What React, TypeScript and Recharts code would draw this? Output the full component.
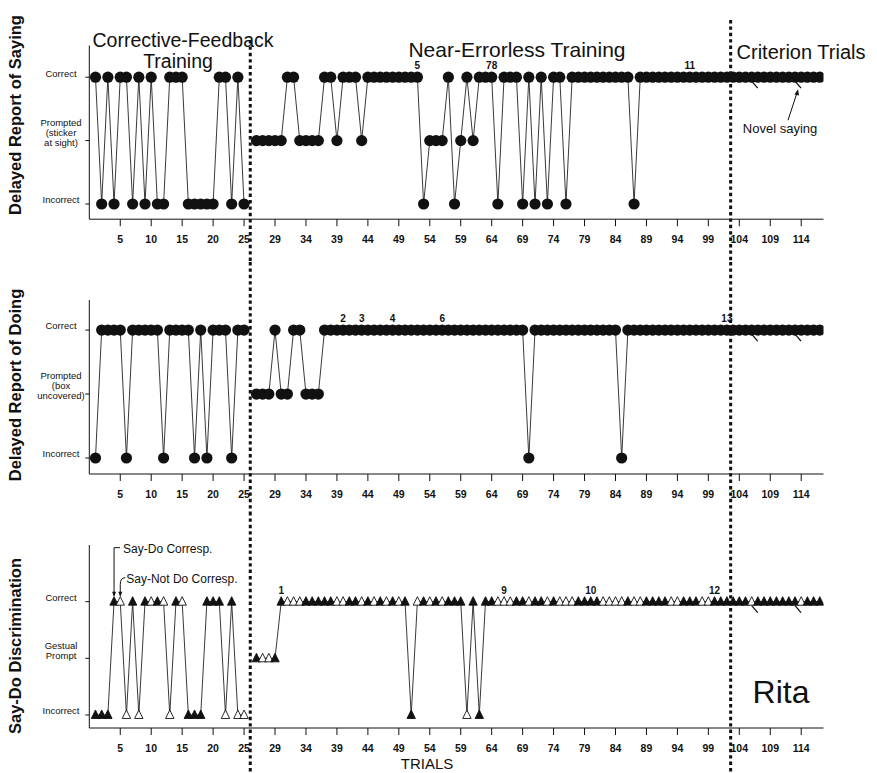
import React from 'react';
import { LineChart, Line, XAxis, YAxis, ReferenceLine, ReferenceDot } from 'recharts';

// ---------- DATA ----------
// 2 = Correct, 1 = Prompted, 0 = Incorrect ; trial = index + 1
const sayingValues = [
  2, 0, 2, 0, 2, 2, 0, 2, 0, 2, 0, 0, 2, 2, 2, 0, 0, 0, 0, 0, 2, 2, 0, 2, 0,
  1, 1, 1, 1, 1, 2, 2, 1, 1, 1, 1, 2, 2, 1, 2, 2, 2, 1,
  2, 2, 2, 2, 2, 2, 2, 2, 2, 0, 1, 1, 1, 2, 0, 1, 2, 1, 2, 2, 2, 0,
  2, 2, 2, 0, 2, 0, 2, 0, 2, 2, 0,
  2, 2, 2, 2, 2, 2, 2, 2, 2, 2, 0,
  2, 2, 2, 2, 2, 2, 2, 2, 2, 2, 2, 2, 2, 2, 2, 2, 2, 2, 2, 2, 2, 2, 2, 2, 2, 2, 2, 2, 2, 2,
];
const doingValues = [
  0, 2, 2, 2, 2, 0, 2, 2, 2, 2, 2, 0, 2, 2, 2, 2, 0, 2, 0, 2, 2, 2, 0, 2, 2,
  1, 1, 1, 2, 1, 1, 2, 2, 1, 1, 1,
  2, 2, 2, 2, 2, 2, 2, 2, 2, 2, 2, 2, 2, 2, 2, 2, 2, 2, 2, 2, 2, 2, 2, 2, 2, 2, 2, 2, 2, 2, 2, 2, 2, 0,
  2, 2, 2, 2, 2, 2, 2, 2, 2, 2, 2, 2, 2, 2, 0,
  2, 2, 2, 2, 2, 2, 2, 2, 2, 2, 2, 2, 2, 2, 2, 2, 2, 2, 2, 2, 2, 2, 2, 2, 2, 2, 2, 2, 2, 2, 2, 2,
];
const sayDoValues = [
  0, 0, 0, 2, 2, 0, 2, 0, 2, 2, 2, 2, 0, 2, 2, 0, 0, 0, 2, 2, 2, 0, 2, 0, 0,
  1, 1, 1, 1,
  2, 2, 2, 2, 2, 2, 2, 2, 2, 2, 2, 2, 2, 2, 2, 2, 2, 2, 2, 2, 2, 0,
  2, 2, 2, 2, 2, 2, 2, 2, 0, 2, 0,
  2, 2, 2, 2, 2, 2, 2, 2, 2, 2, 2, 2, 2, 2, 2, 2, 2, 2, 2, 2, 2, 2, 2, 2, 2, 2,
  2, 2, 2, 2, 2, 2, 2, 2, 2, 2, 2, 2, 2, 2, 2, 2, 2, 2, 2, 2, 2, 2, 2, 2, 2, 2, 2, 2, 2,
];
// F = Say-Do correspondence (filled), O = Say-Not Do correspondence (open)
const sayDoMarkers = [
  'F', 'F', 'F', 'F', 'O', 'O', 'F', 'O', 'F', 'O', 'F', 'O', 'O', 'F', 'O', 'F', 'F', 'F', 'F', 'F', 'F', 'O', 'F', 'O', 'O',
  'F', 'O', 'O', 'F',
  'F', 'O', 'O', 'O', 'F', 'F', 'F', 'F', 'F', 'O', 'O', 'F', 'F', 'O', 'F', 'O', 'F', 'O', 'F', 'O', 'F', 'F',
  'O', 'F', 'O', 'F', 'O', 'F', 'F', 'F', 'O', 'F', 'F',
  'F', 'F', 'O', 'O', 'O', 'F', 'F', 'O', 'F', 'F', 'O', 'F', 'O', 'O', 'O', 'F', 'F', 'F', 'F', 'O', 'O', 'O', 'O', 'F', 'O',
  'O', 'F', 'F', 'F', 'F', 'O', 'O', 'F', 'F', 'F', 'O', 'O', 'F', 'F', 'F', 'F', 'F', 'F', 'O', 'F', 'F', 'F', 'F', 'F', 'F', 'F', 'O', 'F', 'F', 'F',
];

const lastFeedbackTrial = 25;
const lastErrorlessTrial = 102;
const novelTrials = [106, 113];

const sayingNotes = [
  { trial: 52, text: '5' },
  { trial: 64, text: '78' },
  { trial: 96, text: '11' },
];
const doingNotes = [
  { trial: 40, text: '2' },
  { trial: 43, text: '3' },
  { trial: 48, text: '4' },
  { trial: 56, text: '6' },
  { trial: 102, text: '13' },
];
const sayDoNotes = [
  { trial: 30, text: '1' },
  { trial: 66, text: '9' },
  { trial: 80, text: '10' },
  { trial: 100, text: '12' },
];

const xTickTrials = [5, 10, 15, 20, 25, 29, 34, 39, 44, 49, 54, 59, 64, 69, 74, 79, 84, 89, 94, 99, 104, 109, 114];

const sayingTickLabels = { 0: ['Incorrect'], 1: ['Prompted', '(sticker', 'at sight)'], 2: ['Correct'] };
const doingTickLabels = { 0: ['Incorrect'], 1: ['Prompted', '(box', 'uncovered)'], 2: ['Correct'] };
const sayDoTickLabels = { 0: ['Incorrect'], 1: ['Gestual', 'Prompt'], 2: ['Correct'] };

// ---------- HELPERS ----------
const FONT = '"Liberation Sans", Arial, Helvetica, sans-serif';
const INK = '#111';
// a one-trial gap separates the feedback phase from the following phases on the axis
const trialPos = (t: number) => (t <= lastFeedbackTrial ? t : t + 1);
const phaseLine1 = (trialPos(lastFeedbackTrial) + trialPos(lastFeedbackTrial + 1)) / 2;
const phaseLine2 = (trialPos(lastErrorlessTrial) + trialPos(lastErrorlessTrial + 1)) / 2 + 0.1;

function buildData(values: number[], notes: { trial: number; text: string }[], markers?: string[]) {
  return values.map((v, i) => {
    const trial = i + 1;
    const note = notes.find((n) => n.trial === trial);
    return {
      trial,
      pos: trialPos(trial),
      early: trial <= lastFeedbackTrial ? v : null,
      late: trial > lastFeedbackTrial ? v : null,
      marker: markers ? markers[i] : 'C',
      note: note ? note.text : '',
      novel: novelTrials.includes(trial),
    };
  });
}

const makeDot = (shape: 'circle' | 'triangle') => (props: any) => {
  const { cx, cy, payload, index } = props;
  if (cx == null || cy == null || isNaN(cx) || isNaN(cy)) return <g key={`e-${index}`} />;
  let mark;
  if (shape === 'circle') {
    mark = <circle cx={cx} cy={cy} r={5.6} fill={INK} />;
  } else {
    const filled = payload.marker === 'F';
    mark = (
      <path
        d={`M${cx},${cy - 5} L${cx + 4.2},${cy + 3.5} L${cx - 4.2},${cy + 3.5} Z`}
        fill={filled ? INK : '#fff'}
        stroke={INK}
        strokeWidth={0.9}
      />
    );
  }
  return (
    <g key={`d-${index}`}>
      {mark}
      {payload.novel ? (
        <line x1={cx} y1={cy + 4} x2={cx + 6} y2={cy + 11} stroke={INK} strokeWidth={1.3} />
      ) : null}
      {payload.note ? (
        <text x={cx} y={cy - 8} textAnchor="middle" fontFamily={FONT} fontSize={10} fontWeight={700} fill={INK}>
          {payload.note}
        </text>
      ) : null}
    </g>
  );
};

const makeYTick = (labels: Record<number, string[]>) => (props: any) => {
  const { y, payload } = props;
  const lines = labels[payload.value] || [];
  const lh = 10;
  const offset = lines.length === 1 ? -4 : -8;
  const start = y + offset - ((lines.length - 1) * lh) / 2;
  return (
    <g>
      {lines.map((l, i) => (
        <text
          key={i}
          x={61}
          y={start + i * lh}
          dy="0.35em"
          textAnchor="middle"
          fontFamily={FONT}
          fontSize={9.5}
          fill={INK}
        >
          {l}
        </text>
      ))}
    </g>
  );
};

const XTick = (props: any) => {
  const { x, y, payload } = props;
  const t = payload.value <= lastFeedbackTrial ? payload.value : payload.value - 1;
  return (
    <text x={x} y={y} dy="0.75em" textAnchor="middle" fontFamily={FONT} fontSize={10.5} fontWeight={700} fill={INK}>
      {t}
    </text>
  );
};

const dottedShape = (top: number, bottom: number) => (props: any) => (
  <line x1={props.x1} x2={props.x1} y1={top} y2={bottom} stroke={INK} strokeWidth={3} strokeDasharray="3.4 3" />
);

const xTicks = xTickTrials.map(trialPos);

type PanelProps = {
  data: any[];
  top: number;
  height: number;
  marginTop: number;
  xAxisHeight: number;
  yDomain: [number, number];
  labels: Record<number, string[]>;
  shape: 'circle' | 'triangle';
  line1Top: number;
  line2Top: number;
  children?: React.ReactNode;
};

function Panel({ data, top, height, marginTop, xAxisHeight, yDomain, labels, shape, line1Top, line2Top, children }: PanelProps) {
  const dot = makeDot(shape);
  return (
    <div style={{ position: 'absolute', left: 0, top, width: 877, height }}>
      <LineChart
        width={877}
        height={height}
        data={data}
        margin={{ top: marginTop, right: 53.5, bottom: 0, left: 0 }}
        style={{ overflow: 'visible' }}
      >
        <XAxis
          dataKey="pos"
          type="number"
          domain={[0, 118.6]}
          ticks={xTicks}
          tick={<XTick />}
          tickSize={7}
          tickMargin={9}
          height={xAxisHeight}
          axisLine={{ stroke: INK, strokeWidth: 1 }}
          tickLine={{ stroke: INK, strokeWidth: 1 }}
          allowDataOverflow
        />
        <YAxis
          type="number"
          domain={yDomain}
          ticks={[0, 1, 2]}
          width={89.3}
          tick={makeYTick(labels)}
          tickSize={4}
          axisLine={{ stroke: INK, strokeWidth: 1 }}
          tickLine={{ stroke: INK, strokeWidth: 1 }}
          allowDataOverflow
        />
        <ReferenceLine x={phaseLine1} shape={dottedShape(line1Top, height)} />
        <ReferenceLine x={phaseLine2} shape={dottedShape(line2Top, height)} />
        <Line dataKey="early" stroke="#222" strokeWidth={0.9} dot={dot} isAnimationActive={false} />
        <Line dataKey="late" stroke="#222" strokeWidth={0.9} dot={dot} isAnimationActive={false} />
        {children}
      </LineChart>
    </div>
  );
}

const sayingData = buildData(sayingValues, sayingNotes);
const doingData = buildData(doingValues, doingNotes);
const sayDoData = buildData(sayDoValues, sayDoNotes, sayDoMarkers);

export default function App() {
  return (
    <div style={{ position: 'absolute', left: 0, top: 0, width: 877, height: 773, background: '#fff', fontFamily: FONT }}>
      <svg width={877} height={773} style={{ position: 'absolute', left: 0, top: 0 }}>
        <g fontFamily={FONT} fill={INK}>
          <text x={183} y={47} textAnchor="middle" fontSize={19.5}>Corrective-Feedback</text>
          <text x={178} y={68} textAnchor="middle" fontSize={19.5}>Training</text>
          <text x={517} y={57} textAnchor="middle" fontSize={21}>Near-Errorless Training</text>
          <text x={801} y={59} textAnchor="middle" fontSize={20}>Criterion Trials</text>
          <text transform="translate(21,115) rotate(-90)" textAnchor="middle" fontSize={16.5} fontWeight={700}>
            Delayed Report of Saying
          </text>
          <text transform="translate(21,385) rotate(-90)" textAnchor="middle" fontSize={16.5} fontWeight={700}>
            Delayed Report of Doing
          </text>
          <text transform="translate(21,646) rotate(-90)" textAnchor="middle" fontSize={16.5} fontWeight={700}>
            Say-Do Discrimination
          </text>
          <text x={427} y={769} textAnchor="middle" fontSize={15}>TRIALS</text>
          <text x={781} y={703} textAnchor="middle" fontSize={32}>Rita</text>
        </g>
      </svg>

      <Panel
        data={sayingData}
        top={0}
        height={262}
        marginTop={45.5}
        xAxisHeight={42.8}
        yDomain={[-0.24, 2.5]}
        labels={sayingTickLabels}
        shape="circle"
        line1Top={40}
        line2Top={20}
      >
        <ReferenceDot
          x={trialPos(113)}
          y={2}
          r={0}
          ifOverflow="visible"
          shape={(p: any) => (
            <g>
              <line x1={p.cx - 7} y1={p.cy + 43} x2={p.cx + 2.5} y2={p.cy + 14} stroke={INK} strokeWidth={1} />
              <path d={`M${p.cx + 3},${p.cy + 12} l-3.6,5.2 l4.6,1 Z`} fill={INK} />
              <text x={p.cx - 15} y={p.cy + 56} textAnchor="middle" fontFamily={FONT} fontSize={13} fill={INK}>
                Novel saying
              </text>
            </g>
          )}
        />
      </Panel>

      <Panel
        data={doingData}
        top={262}
        height={250}
        marginTop={38}
        xAxisHeight={38}
        yDomain={[-0.25, 2.47]}
        labels={doingTickLabels}
        shape="circle"
        line1Top={0}
        line2Top={0}
      />

      <Panel
        data={sayDoData}
        top={512}
        height={261}
        marginTop={33}
        xAxisHeight={45}
        yDomain={[-0.23, 3.0]}
        labels={sayDoTickLabels}
        shape="triangle"
        line1Top={0}
        line2Top={0}
      >
        <ReferenceDot
          x={trialPos(4)}
          y={2}
          r={0}
          ifOverflow="visible"
          shape={(p: any) => (
            <g>
              <polyline
                points={`${p.cx + 6},${p.cy - 54} ${p.cx},${p.cy - 54} ${p.cx},${p.cy - 6}`}
                fill="none"
                stroke={INK}
                strokeWidth={1}
              />
              <path d={`M${p.cx},${p.cy - 5} l-2,-5 l4,0 Z`} fill={INK} />
              <text x={p.cx + 9} y={p.cy - 49} fontFamily={FONT} fontSize={12} fill={INK}>
                Say-Do Corresp.
              </text>
            </g>
          )}
        />
        <ReferenceDot
          x={trialPos(5)}
          y={2}
          r={0}
          ifOverflow="visible"
          shape={(p: any) => (
            <g>
              <path
                d={`M${p.cx + 5},${p.cy - 24} Q${p.cx},${p.cy - 24} ${p.cx},${p.cy - 17} L${p.cx},${p.cy - 6}`}
                fill="none"
                stroke={INK}
                strokeWidth={1}
              />
              <path d={`M${p.cx},${p.cy - 5} l-2,-5 l4,0 Z`} fill={INK} />
              <text x={p.cx + 6} y={p.cy - 19} fontFamily={FONT} fontSize={12} fill={INK}>
                Say-Not Do Corresp.
              </text>
            </g>
          )}
        />
      </Panel>
    </div>
  );
}
